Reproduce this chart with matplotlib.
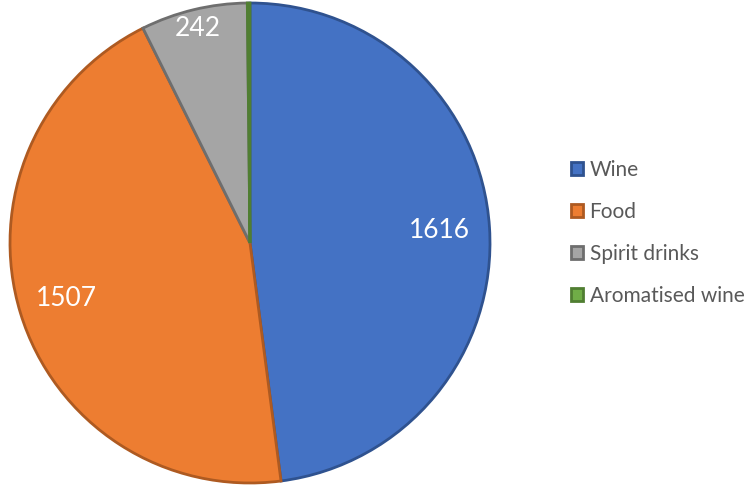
import matplotlib.pyplot as plt
import numpy as np

plt.rcParams['font.family'] = ['Lato', 'DejaVu Sans']

categories = ["Wine", "Food", "Spirit drinks", "Aromatised wine"]
values = [1616, 1507, 242, 6]
labels = ["1616", "1507", "242", None]

colors = ['#4472C4', '#ED7D31', '#A5A5A5', '#70AD47']
edges = ['#2F528F', '#AE5A21', '#6E6E6E', '#507E32']
label_r = [0.79, 0.80, 0.92, 0.9]

fig = plt.figure(figsize=(7.51, 4.90), dpi=100)
ax = fig.add_axes([10 / 751, 7 / 490, 480 / 751, 480 / 490])

wedges, _ = ax.pie(values, colors=colors, startangle=90, counterclock=False,
                   radius=1.0,
                   wedgeprops=dict(linewidth=2.0, antialiased=True))
for w, ec in zip(wedges, edges):
    w.set_edgecolor(ec)

# value labels inside the slices
for w, lab, r in zip(wedges, labels, label_r):
    if lab is None:
        continue
    ang = np.deg2rad((w.theta1 + w.theta2) / 2)
    ax.text(r * np.cos(ang), r * np.sin(ang), lab, color='white',
            fontsize=19, ha='center', va='center')

ax.set_xlim(-1.0, 1.0)
ax.set_ylim(-1.0, 1.0)
ax.set_aspect('equal')
ax.axis('off')

fig.legend(wedges, categories, loc='center left', bbox_to_anchor=(552 / 751, 1 - 233 / 490),
           frameon=False, fontsize=15, handlelength=0.6, handleheight=0.6,
           handletextpad=0.3, labelspacing=1.05, labelcolor='#595959')

fig.savefig('out.png', dpi=100, facecolor='white')
